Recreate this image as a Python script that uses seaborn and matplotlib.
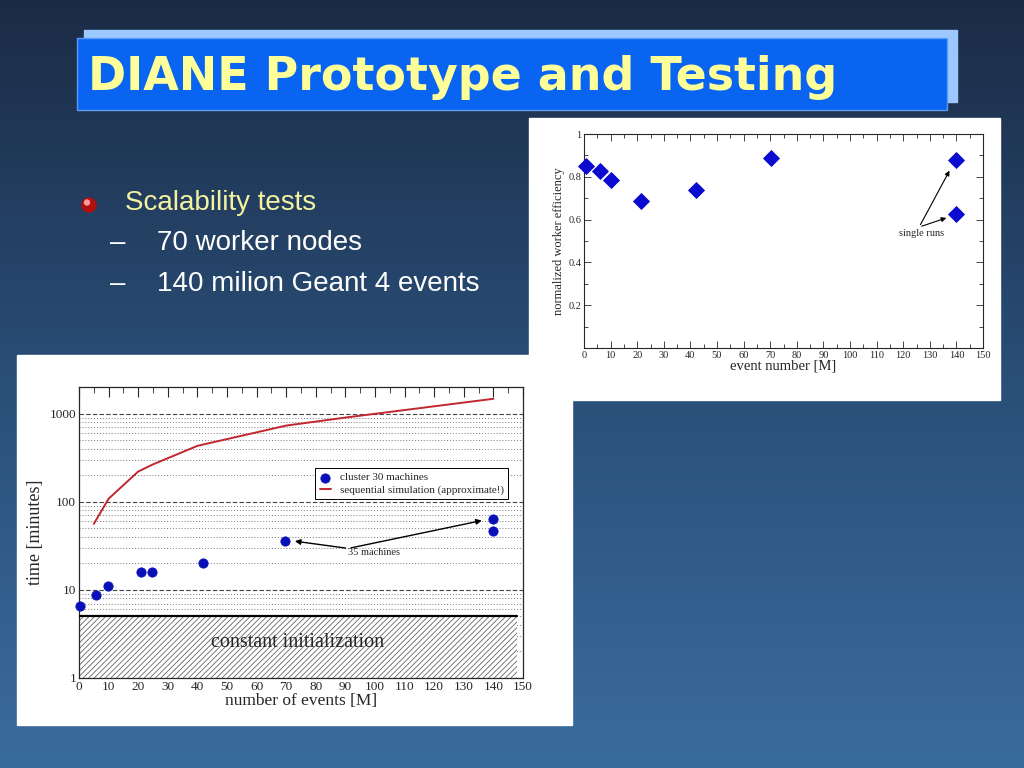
import numpy as np
import pandas as pd
import seaborn as sns
import matplotlib.pyplot as plt
from matplotlib.patches import Rectangle, Circle
from matplotlib.ticker import MultipleLocator, FixedLocator, NullFormatter, LogLocator

# time to process N million events (log plot)
cluster_events = [0.3, 5.8, 9.7, 20.9, 24.8, 41.8, 69.7, 140, 140]
cluster_minutes = [6.6, 8.7, 11.1, 16.0, 16.1, 20.4, 35.8, 64, 47]
seq_events = [5, 10, 20, 25, 40, 70, 90, 140]
seq_minutes = [56, 108, 220, 265, 430, 730, 900, 1470]
init_minutes = 5

# normalized worker efficiency
eff_events = [0.6, 6.0, 10.2, 21.4, 42.2, 70.2, 140, 140]
eff_values = [0.849, 0.826, 0.785, 0.685, 0.738, 0.888, 0.878, 0.628]

title = "DIANE Prototype and Testing"
bullet = "Scalability tests"
sub_bullets = ["70 worker nodes", "140 milion Geant 4 events"]

W, H = 1024, 768


def px(x0, y0, x1, y1):
    # pixel box -> figure rect
    return [x0 / W, 1 - y1 / H, (x1 - x0) / W, (y1 - y0) / H]


sns.set_style("ticks")
plt.rcParams['font.family'] = ['Liberation Serif', 'DejaVu Serif']
plt.rcParams['hatch.linewidth'] = 0.6

fig = plt.figure(figsize=(10.24, 7.68), dpi=100)

# slide background
bg = fig.add_axes([0, 0, 1, 1])
grad = np.linspace(0, 1, 256).reshape(-1, 1)
cmap = sns.blend_palette(["#1b2b45", "#2a4f78", "#3a6b9e"], as_cmap=True)
bg.imshow(grad, aspect='auto', cmap=cmap, extent=[0, W, H, 0])
bg.set_xlim(0, W)
bg.set_ylim(H, 0)
bg.axis('off')

# title box
bg.add_patch(Rectangle((84, 30), 873, 72, color="#9cc8ff", zorder=2))
bg.add_patch(Rectangle((77, 38), 870, 72, facecolor="#0a64f2",
                       edgecolor="#5a9cf0", lw=1, zorder=3))
bg.text(88, 77, title, color="#ffff99", fontsize=33, fontweight='bold',
        family=['DejaVu Sans'], va='center', ha='left', zorder=4)

# bullets
bg.add_patch(Circle((89, 205), 7, color="#b01010", zorder=3))
bg.add_patch(Circle((87, 202.5), 2.5, color="#ff9a9a", zorder=4))
bg.text(125, 203, bullet, color="#f2f2a0", fontsize=20,
        family=['Liberation Sans', 'DejaVu Sans'], va='center')
for i, s in enumerate(sub_bullets):
    yy = 243 + i * 41
    bg.text(110, yy, "–", color="white", fontsize=20,
            family=['Liberation Sans', 'DejaVu Sans'], va='center')
    bg.text(157, yy, s, color="white", fontsize=20,
            family=['Liberation Sans', 'DejaVu Sans'], va='center')

# white panels for the two pictures
bg.add_patch(Rectangle((529, 118), 471, 282, color="white", zorder=2))
bg.add_patch(Rectangle((17, 355), 555, 370, color="white", zorder=2))

# ---------- efficiency chart ----------
ax1 = fig.add_axes(px(584, 134, 983, 348))
df_eff = pd.DataFrame({"events": eff_events, "eff": eff_values})
sns.scatterplot(data=df_eff, x="events", y="eff", marker="D", s=65,
                color="#0a0ad0", edgecolor="#0a0ad0", ax=ax1, zorder=3,
                clip_on=False)
ax1.set_xlim(0, 150)
ax1.set_ylim(0, 1)
ax1.xaxis.set_major_locator(MultipleLocator(10))
ax1.xaxis.set_minor_locator(MultipleLocator(5))
ax1.yaxis.set_major_locator(FixedLocator([0.2, 0.4, 0.6, 0.8, 1.0]))
ax1.yaxis.set_minor_locator(MultipleLocator(0.1))
ax1.set_yticklabels(["0.2", "0.4", "0.6", "0.8", "1"])
ax1.tick_params(which='both', direction='in', top=True, right=True,
                labelsize=7.5, width=0.6, pad=2)
ax1.tick_params(which='major', length=5)
ax1.tick_params(which='minor', length=3)
for sp in ax1.spines.values():
    sp.set_linewidth(0.8)
ax1.set_xlabel("event number [M]", fontsize=10.5, labelpad=0)
ax1.set_ylabel("normalized worker efficiency", fontsize=9, labelpad=2)
ax1.text(127, 0.537, "single runs", fontsize=7.5, ha='center', va='center')
for tgt in [(137.9, 0.84), (137.2, 0.612)]:
    ax1.annotate("", xy=tgt, xytext=(126, 0.565),
                 arrowprops=dict(arrowstyle='-|>', color='black', lw=0.8,
                                 mutation_scale=7))

# ---------- time chart ----------
ax2 = fig.add_axes(px(79, 387, 523, 678))
df_cl = pd.DataFrame({"events": cluster_events, "minutes": cluster_minutes})
df_seq = pd.DataFrame({"events": seq_events, "minutes": seq_minutes})
ax2.set_yscale('log')
ax2.set_xlim(0, 150)
ax2.set_ylim(1, 2000)
ax2.yaxis.set_major_locator(FixedLocator([1, 10, 100, 1000]))
ax2.yaxis.set_minor_locator(LogLocator(base=10, subs=np.arange(2, 10)))
ax2.yaxis.set_minor_formatter(NullFormatter())
ax2.set_yticklabels(["1", "10", "100", "1000"])
ax2.grid(which='major', axis='y', ls=(0, (4, 2)), color='#444444', lw=0.8)
ax2.grid(which='minor', axis='y', ls=(0, (1, 2)), color='#777777', lw=0.7)

ax2.fill_between([0, 148], 1, init_minutes, facecolor='white',
                 hatch='//////', edgecolor='#666666', lw=0, zorder=2)
ax2.plot([0, 148], [init_minutes, init_minutes], color='black', lw=1.6, zorder=3)
ax2.text(74, 2.55, "constant initialization", fontsize=14.5, ha='center',
         va='center', zorder=4)

sns.lineplot(data=df_seq, x="events", y="minutes", color="#c0282e", lw=1.4,
             ax=ax2, label="sequential simulation (approximate!)", zorder=4)
sns.scatterplot(data=df_cl, x="events", y="minutes", s=45, color="#0a10b8",
                edgecolor="#0a10b8", ax=ax2, label="cluster 30 machines",
                zorder=5, clip_on=False)

handles, labels = ax2.get_legend_handles_labels()
leg = ax2.legend(handles[::-1], labels[::-1], loc='upper left',
                 bbox_to_anchor=(0.52, 0.74), fontsize=8, frameon=True,
                 fancybox=False, edgecolor='black', framealpha=1,
                 handlelength=1.0, borderpad=0.4, labelspacing=0.2)
leg.get_frame().set_linewidth(0.7)

ax2.text(91, 26.5, "35 machines", fontsize=7.5, ha='left', va='center', zorder=6)
for tgt in [(72, 36), (137, 62)]:
    ax2.annotate("", xy=tgt, xytext=(91, 29.5),
                 arrowprops=dict(arrowstyle='-|>', color='black', lw=1.0,
                                 mutation_scale=8), zorder=6)

ax2.xaxis.set_major_locator(MultipleLocator(10))
ax2.xaxis.set_minor_locator(MultipleLocator(5))
ax2.tick_params(axis='x', which='both', direction='in', top=True, bottom=False,
                labelsize=9.5, pad=2)
ax2.tick_params(axis='x', which='major', length=7)
ax2.tick_params(axis='x', which='minor', length=4)
ax2.tick_params(axis='y', which='both', length=0, labelsize=9.5, pad=2)
ax2.set_xlabel("number of events [M]", fontsize=12.5, labelpad=0)
ax2.set_ylabel("time [minutes]", fontsize=13, labelpad=4)
for sp in ax2.spines.values():
    sp.set_linewidth(0.9)

fig.savefig("out.png", dpi=100)
